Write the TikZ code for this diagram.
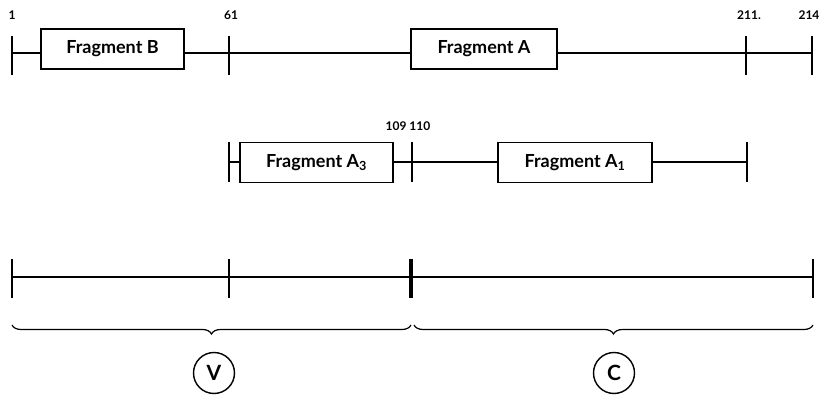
\documentclass[tikz,border=0pt]{standalone}
\usepackage{fontspec}
\setmainfont{Lato}
\usetikzlibrary{decorations.pathreplacing}
\begin{document}
\begin{tikzpicture}[x=1pt,y=-1pt,
  line width=1.2pt,
  frag/.style={draw,rectangle,inner sep=0pt,minimum height=40pt,line width=1.4pt,font=\bfseries\fontsize{18}{20}\selectfont},
  num/.style={font=\bfseries\fontsize{12}{13}\selectfont,inner sep=0pt},
  tickline/.style={line width=1.4pt},
  bigtick/.style={line width=4pt},
  br/.style={decorate,decoration={brace,mirror,amplitude=9pt},line width=1.2pt},
  roundlabel/.style={draw,circle,minimum size=41pt,inner sep=0pt,line width=1.4pt,font=\bfseries\fontsize{21}{22}\selectfont}
]
\useasboundingbox (0,0) rectangle (825,395);
% Row 1
\coordinate (a1) at (12,53);
\coordinate (a61) at (229,53);
\coordinate (a211) at (746,53);
\coordinate (a214) at (812,53);
\node[frag,minimum width=143pt] (fb) at (112.5,49) {Fragment B};
\node[frag,minimum width=146pt] (fa) at (484,49) {Fragment A};
\draw (a1) -- (fb.west |- a1);
\draw (fb.east |- a1) -- (fa.west |- a1);
\draw (fa.east |- a1) -- (a214);
\foreach \p in {a1,a61,a211,a214}{\draw[tickline] ([yshift=-22pt]\p) -- ([yshift=17pt]\p);}
\node[num] (n1) at (12,15) {1};
\node[num] (n61) at (231,15) {61};
\node[num] (n211) at (749,15) {211.};
\node[num] (n214) at (809,15) {214};
% Row 2
\coordinate (b61) at (229,162);
\coordinate (b110) at (412,162);
\coordinate (b211) at (747,162);
\node[frag,minimum width=153pt] (fa3) at (316.5,162.5) {Fragment A\textsubscript{3}};
\node[frag,minimum width=154pt] (fa1) at (575,162.5) {Fragment A\textsubscript{1}};
\draw (b61) -- (fa3.west |- b61);
\draw (fa3.east |- b61) -- (fa1.west |- b61);
\draw (fa1.east |- b61) -- (b211);
\foreach \p in {b61,b110,b211}{\draw[tickline] ([yshift=-20pt]\p) -- ([yshift=20pt]\p);}
\node[num] (n109) at (408,126) {109 110};
% Row 3
\coordinate (c1) at (12,277);
\coordinate (c61) at (229,277);
\coordinate (c110) at (411,277);
\coordinate (c214) at (813,277);
\draw (c1) -- (c110) -- (c214);
\foreach \p in {c1,c61,c214}{\draw[tickline] ([yshift=-21pt]\p) -- ([yshift=18pt]\p);}
\draw[bigtick] ([yshift=-21pt]c110) -- ([yshift=18pt]c110);
% braces
\coordinate (v1) at (12,325);
\coordinate (v2) at (411,325);
\coordinate (w1) at (414,325);
\coordinate (w2) at (813,325);
\draw[br] (v1) -- (v2);
\draw[br] (w1) -- (w2);
\node[roundlabel] (V) at (214,373) {V};
\node[roundlabel] (C) at (614,373) {C};
\end{tikzpicture}
\end{document}
